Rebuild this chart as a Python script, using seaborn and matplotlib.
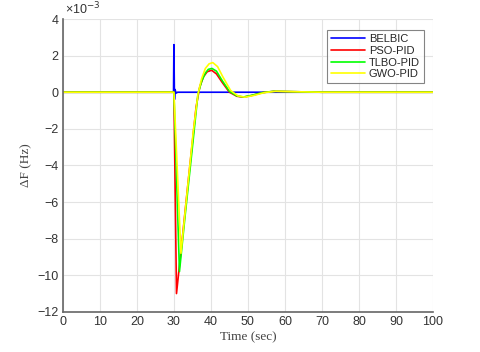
import numpy as np
import pandas as pd
import matplotlib
matplotlib.use("Agg")
import matplotlib.pyplot as plt
import seaborn as sns

# frequency deviation, values in units of 1e-3 Hz
t_belbic = [0, 29.9, 30.0, 30.15, 30.3, 30.6, 31.0, 35, 60, 100]
f_belbic = [0, 0, 2.6, -0.4, 0.15, -0.05, 0, 0, 0, 0]

t_pso = [0, 30.0, 30.7, 32.0, 34.0, 36.0, 37.0, 38.0, 39.0, 40.2, 41.5, 43.0,
         45.0, 47.0, 48.8, 51.0, 54.0, 57.0, 62.0, 70.0, 100]
f_pso = [0, 0, -11.0, -8.5, -4.6, -0.8, 0.3, 0.85, 1.12, 1.2, 1.0, 0.55,
         0.0, -0.22, -0.27, -0.18, -0.02, 0.05, 0.03, 0, 0]

t_tlbo = [0, 30.0, 31.5, 33.0, 35.0, 36.5, 37.5, 38.5, 39.3, 40.3, 41.5, 43.0,
          45.0, 47.0, 48.8, 51.0, 54.0, 57.0, 62.0, 70.0, 100]
f_tlbo = [0, 0, -9.8, -6.8, -3.0, -0.1, 0.6, 1.05, 1.25, 1.3, 1.15, 0.65,
          0.05, -0.2, -0.26, -0.17, -0.02, 0.05, 0.03, 0, 0]

t_gwo = [0, 30.0, 31.9, 33.5, 35.2, 36.5, 37.5, 38.5, 39.5, 40.5, 41.8, 43.2,
         45.3, 47.3, 49.2, 51.5, 54.5, 57.5, 62.0, 70.0, 100]
f_gwo = [0, 0, -8.8, -5.6, -2.2, -0.1, 0.75, 1.3, 1.55, 1.62, 1.4, 0.85,
         0.1, -0.2, -0.27, -0.18, -0.02, 0.05, 0.03, 0, 0]

series = [("BELBIC", t_belbic, f_belbic, "#0000ff"),
          ("PSO-PID", t_pso, f_pso, "#ff0000"),
          ("TLBO-PID", t_tlbo, f_tlbo, "#00ff00"),
          ("GWO-PID", t_gwo, f_gwo, "#ffff00")]

sns.set_style("white")
plt.rcParams['font.family'] = ['Liberation Sans', 'DejaVu Sans']

fig = plt.figure(figsize=(4.8, 3.52), dpi=100)
ax = fig.add_axes([0.131, 0.114, 0.771, 0.832])

for name, t, f, c in series:
    df = pd.DataFrame({"t": t, "f": f})
    sns.lineplot(data=df, x="t", y="f", color=c, lw=1.2, label=name,
                 sort=False, estimator=None, ax=ax)

ax.set_xlim(0, 100)
ax.set_ylim(-12, 4)
ax.set_xticks(np.arange(0, 101, 10))
ax.set_yticks(np.arange(-12, 5, 2))
ax.grid(True, color="#e3e3e3", lw=0.8)
ax.set_axisbelow(True)
for s in ["top", "right"]:
    ax.spines[s].set_visible(False)
for s in ["left", "bottom"]:
    ax.spines[s].set_color("#666666")
    ax.spines[s].set_linewidth(1.2)
ax.tick_params(direction="in", length=3, width=0.8, color="#666666",
               labelsize=9, labelcolor="#333333", pad=3)

ax.text(0.005, 1.005, "×10$^{-3}$", transform=ax.transAxes, fontsize=9,
        color="#333333", ha="left", va="bottom")

ax.set_xlabel("Time (sec)", family="Liberation Serif", fontsize=9.5,
              color="#444444", labelpad=2)
ax.set_ylabel("ΔF (Hz)", family="Liberation Serif", fontsize=9.5,
              color="#444444", labelpad=4)

leg = ax.legend(loc="upper right", bbox_to_anchor=(0.99, 0.98), fontsize=8,
                frameon=True, fancybox=False, handlelength=3.1,
                handletextpad=0.3, borderpad=0.35, labelspacing=0.15)
leg.get_frame().set_edgecolor("#666666")
leg.get_frame().set_linewidth(0.8)

fig.savefig("out.png", dpi=100)
